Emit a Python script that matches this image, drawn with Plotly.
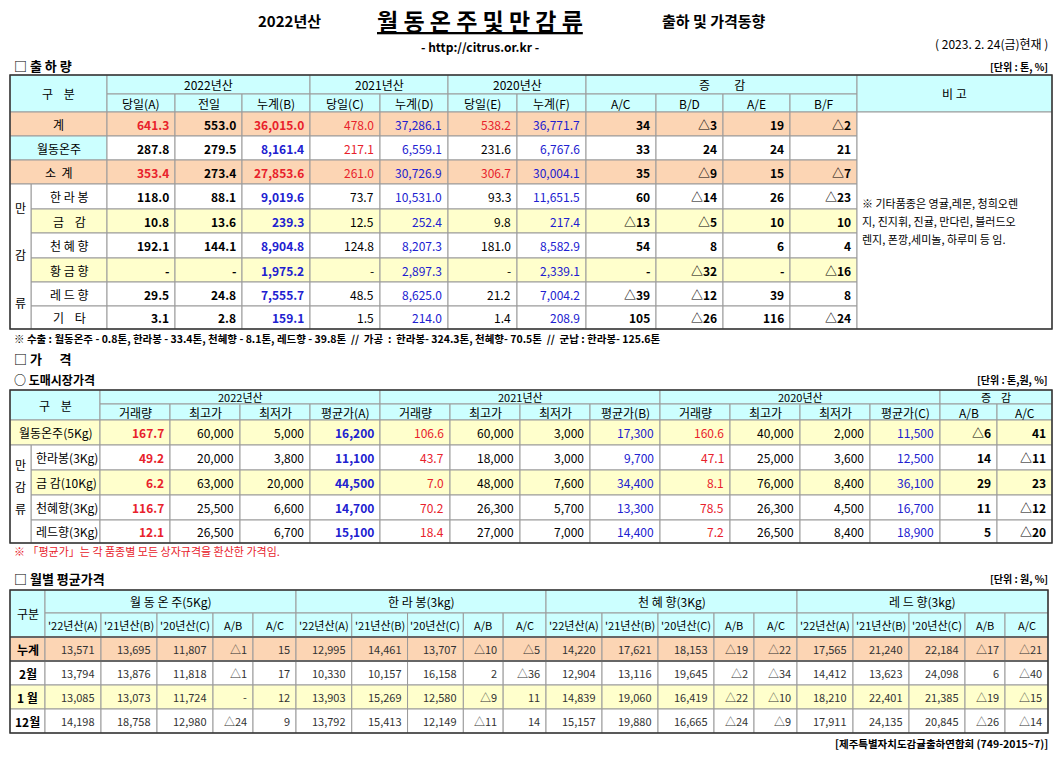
import plotly.graph_objects as go

FONT = "Noto Sans CJK KR"

# ---- 출하량 data ----
ship_labels = ["계", "월동온주", "소  계", "한 라 봉", "금    감", "천 혜 향", "황 금 향", "레 드 향", "기    타"]
ship_vals = [
    ["641.3", "553.0", "36,015.0", "478.0", "37,286.1", "538.2", "36,771.7", "34", "△3", "19", "△2"],
    ["287.8", "279.5", "8,161.4", "217.1", "6,559.1", "231.6", "6,767.6", "33", "24", "24", "21"],
    ["353.4", "273.4", "27,853.6", "261.0", "30,726.9", "306.7", "30,004.1", "35", "△9", "15", "△7"],
    ["118.0", "88.1", "9,019.6", "73.7", "10,531.0", "93.3", "11,651.5", "60", "△14", "26", "△23"],
    ["10.8", "13.6", "239.3", "12.5", "252.4", "9.8", "217.4", "△13", "△5", "10", "10"],
    ["192.1", "144.1", "8,904.8", "124.8", "8,207.3", "181.0", "8,582.9", "54", "8", "6", "4"],
    ["-", "-", "1,975.2", "-", "2,897.3", "-", "2,339.1", "-", "△32", "-", "△16"],
    ["29.5", "24.8", "7,555.7", "48.5", "8,625.0", "21.2", "7,004.2", "△39", "△12", "39", "8"],
    ["3.1", "2.8", "159.1", "1.5", "214.0", "1.4", "208.9", "105", "△26", "116", "△24"],
]
ship_sub = ["당일(A)", "전일", "누계(B)", "당일(C)", "누계(D)", "당일(E)", "누계(F)", "A/C", "B/D", "A/E", "B/F"]
note_lines = ["※ 기타품종은 영귤,레몬, 청희오렌", "지, 진지휘, 진귤, 만다린, 블러드오", "렌지, 폰깡,세미놀, 하루미 등 임."]

# ---- 도매시장가격 data ----
price_labels = ["월동온주(5Kg)", "한라봉(3Kg)", "금 감(10Kg)", "천혜향(3Kg)", "레드향(3Kg)"]
price_vals = [
    ["167.7", "60,000", "5,000", "16,200", "106.6", "60,000", "3,000", "17,300", "160.6", "40,000", "2,000", "11,500", "△6", "41"],
    ["49.2", "20,000", "3,800", "11,100", "43.7", "18,000", "3,000", "9,700", "47.1", "25,000", "3,600", "12,500", "14", "△11"],
    ["6.2", "63,000", "20,000", "44,500", "7.0", "48,000", "7,600", "34,400", "8.1", "76,000", "8,400", "36,100", "29", "23"],
    ["116.7", "25,500", "6,600", "14,700", "70.2", "26,300", "5,700", "13,300", "78.5", "26,300", "4,500", "16,700", "11", "△12"],
    ["12.1", "26,500", "6,700", "15,100", "18.4", "27,000", "7,000", "14,400", "7.2", "26,500", "8,400", "18,900", "5", "△20"],
]
price_sub = ["거래량", "최고가", "최저가", "평균가(A)", "거래량", "최고가", "최저가", "평균가(B)",
             "거래량", "최고가", "최저가", "평균가(C)", "A/B", "A/C"]

# ---- 월별 평균가격 data ----
month_groups = ["월 동 온 주(5Kg)", "한 라 봉(3kg)", "천 혜 향(3Kg)", "레 드 향(3kg)"]
month_sub = ["'22년산(A)", "'21년산(B)", "'20년산(C)", "A/B", "A/C"]
month_labels = ["누계", "2월", "1 월", "12월"]
month_vals = [
    ["13,571", "13,695", "11,807", "△1", "15", "12,995", "14,461", "13,707", "△10", "△5",
     "14,220", "17,621", "18,153", "△19", "△22", "17,565", "21,240", "22,184", "△17", "△21"],
    ["13,794", "13,876", "11,818", "△1", "17", "10,330", "10,157", "16,158", "2", "△36",
     "12,904", "13,116", "19,645", "△2", "△34", "14,412", "13,623", "24,098", "6", "△40"],
    ["13,085", "13,073", "11,724", "-", "12", "13,903", "15,269", "12,580", "△9", "11",
     "14,839", "19,060", "16,419", "△22", "△10", "18,210", "22,401", "21,385", "△19", "△15"],
    ["14,198", "18,758", "12,980", "△24", "9", "13,792", "15,413", "12,149", "△11", "14",
     "15,157", "19,880", "16,665", "△24", "△9", "17,911", "24,135", "20,845", "△26", "△14"],
]

CYAN = "#ccffff"
PEACH = "#fcd5b4"
YEL = "#ffffcc"
RED = "#e8212b"
BLUE = "#2020d0"
GRID = "#9a9a9a"

shapes = []
annos = []


def cell(x0, x1, y0, y1, text="", fill="white", color="black", bold=False, align="center", size=12):
    shapes.append(dict(type="rect", xref="x", yref="y", x0=x0, x1=x1, y0=y0, y1=y1,
                       fillcolor=fill, line=dict(color=GRID, width=1), layer="below"))
    if text != "":
        if align == "right":
            x, xa = x1 - 4, "right"
        elif align == "left":
            x, xa = x0 + 3, "left"
        else:
            x, xa = (x0 + x1) / 2, "center"
        txt = "<b>%s</b>" % text if bold else text
        annos.append(dict(x=x, y=(y0 + y1) / 2, xref="x", yref="y", text=txt, showarrow=False,
                          xanchor=xa, yanchor="middle", font=dict(size=size, color=color, family=FONT)))


def label(x, y, text, size=12, anchor="left", color="black", bold=False):
    txt = "<b>%s</b>" % text if bold else text
    annos.append(dict(x=x, y=y, xref="x", yref="y", text=txt, showarrow=False, xanchor=anchor,
                      yanchor="middle", font=dict(size=size, color=color, family=FONT)))


def frame(x0, x1, y0, y1):
    shapes.append(dict(type="rect", x0=x0, x1=x1, y0=y0, y1=y1, xref="x", yref="y",
                       line=dict(color="#333333", width=1.5)))


# ---- title ----
label(323, 20, "2022년산", 15, "right", bold=True)
label(480, 20, "<u>월 동 온 주 및 만 감 류</u>", 23, "center", bold=True)
label(660, 20, "출하 및 가격동향", 15, "left", bold=True)
label(480, 46, "- http://citrus.or.kr -", 12, "center", bold=True)
label(1050, 43, "( 2023. 2. 24(금)현재 )", 12, "right")

# ---- 출하량 ----
label(12, 65, "□ 출 하 량", 13, bold=True)
label(1050, 66, "[단위 : 톤, %]", 10, "right", bold=True)
cx = [107, 175, 242, 310, 380, 448, 517, 586, 656, 723, 790, 857]
cell(10, 107, 75, 112, "구    분", CYAN)
for x0, x1, t in [(107, 310, "2022년산"), (310, 448, "2021년산"), (448, 586, "2020년산"), (586, 857, "증         감")]:
    cell(x0, x1, 75, 94, t, CYAN)
for i, t in enumerate(ship_sub):
    cell(cx[i], cx[i + 1], 94, 112, t, CYAN)
cell(857, 1052, 75, 112, "비 고", CYAN)
ry = [112, 136, 160, 184, 209, 233, 258, 282, 306, 329]
for r, (lab, vals) in enumerate(zip(ship_labels, ship_vals)):
    y0, y1 = ry[r], ry[r + 1]
    total = r in (0, 2)
    fill = PEACH if total else (YEL if r in (4, 6) else "white")
    if r < 3:
        cell(10, 107, y0, y1, lab, PEACH if total else CYAN)
    else:
        cell(31, 107, y0, y1, lab, fill)
    for i, v in enumerate(vals):
        if i in (0, 3, 5):
            col = RED if (total or (r == 1 and i == 3)) else "black"
        elif i == 2:
            col = RED if total else BLUE
        elif i in (4, 6):
            col = BLUE
        else:
            col = "black"
        bold = i < 3 or i > 6
        cell(cx[i], cx[i + 1], y0, y1, v, fill, col, bold, "right")
cell(10, 31, 184, 329, "", "white")
for ch, y in zip(["만", "감", "류"], [207, 254, 302]):
    label(20, y, ch, 12, "center")
cell(857, 1052, 112, 329, "")
for k, t in enumerate(note_lines):
    label(860, 203 + k * 18, t, 11)
frame(10, 1052, 75, 329)
label(12, 338, "※ 수출 : 월동온주 - 0.8톤, 한라봉 - 33.4톤, 천혜향 - 8.1톤, 레드향 - 39.8톤  //  가공  :  한라봉- 324.3톤, 천혜향- 70.5톤  //  군납 : 한라봉- 125.6톤", 10.5, bold=True)

# ---- 가격 ----
label(12, 358, "□ 가      격", 13, bold=True)
label(12, 379, "○ 도매시장가격", 12, bold=True)
label(1050, 379, "[단위 : 톤,원, %]", 10, "right", bold=True)
px_ = [100, 170, 240, 310, 380, 450, 520, 590, 660, 730, 800, 870, 940, 997, 1052]
cell(10, 100, 390, 420, "구    분", CYAN)
for x0, x1, t in [(100, 380, "2022년산"), (380, 660, "2021년산"), (660, 940, "2020년산"), (940, 1052, "증    감")]:
    cell(x0, x1, 390, 404, t, CYAN, size=11)
for i, t in enumerate(price_sub):
    cell(px_[i], px_[i + 1], 404, 420, t, CYAN)
pry = [420, 445, 470, 495, 520, 543]
for r, (lab, vals) in enumerate(zip(price_labels, price_vals)):
    y0, y1 = pry[r], pry[r + 1]
    fill = YEL if r in (0, 2) else "white"
    if r == 0:
        cell(10, 100, y0, y1, lab, fill)
    else:
        cell(31, 100, y0, y1, lab, fill, align="left")
    for i, v in enumerate(vals):
        col = RED if i in (0, 4, 8) else (BLUE if i in (3, 7, 11) else "black")
        bold = i in (0, 3, 12, 13)
        cell(px_[i], px_[i + 1], y0, y1, v, fill, col, bold, "right")
cell(10, 31, 445, 543, "", "white")
for ch, y in zip(["만", "감", "류"], [464, 486, 508]):
    label(20, y, ch, 12, "center")
frame(10, 1052, 390, 543)
label(12, 551, "※ 「평균가」는 각 품종별 모든 상자규격을 환산한 가격임.", 11, color=RED)

# ---- 월별 평균가격 ----
label(12, 578, "□ 월별 평균가격", 13, bold=True)
label(1050, 578, "[단위 : 원, %]", 10, "right", bold=True)
gx = [45, 296, 546, 797, 1048]
widths = [56, 56, 56, 40, 43]
mx = []
for g in range(4):
    x = gx[g]
    scale = (gx[g + 1] - gx[g]) / sum(widths)
    for w in widths:
        mx.append(x)
        x += w * scale
mx.append(gx[-1])
cell(10, 45, 590, 637, "구분", CYAN)
for g, t in enumerate(month_groups):
    cell(gx[g], gx[g + 1], 590, 613, t, CYAN)
for i in range(20):
    cell(mx[i], mx[i + 1], 613, 637, month_sub[i % 5], CYAN, size=11)
mry = [637, 661, 685, 709, 733]
for r, (lab, vals) in enumerate(zip(month_labels, month_vals)):
    y0, y1 = mry[r], mry[r + 1]
    fill = PEACH if r == 0 else (YEL if r == 2 else "white")
    cell(10, 45, y0, y1, lab, fill, bold=True)
    for i, v in enumerate(vals):
        cell(mx[i], mx[i + 1], y0, y1, v, fill, "#333333", False, "right", 11)
shapes.append(dict(type="line", x0=10, x1=1048, y0=637, y1=637, line=dict(color="#666", width=2)))
shapes.append(dict(type="line", x0=10, x1=1048, y0=661, y1=661, line=dict(color="#666", width=2)))
frame(10, 1048, 590, 733)
label(1050, 743, "[제주특별자치도감귤출하연합회 (749-2015~7)]", 10.5, "right", bold=True)

fig = go.Figure()
fig.update_layout(
    width=1062, height=757, margin=dict(l=0, r=0, t=0, b=0),
    paper_bgcolor="white", plot_bgcolor="white",
    xaxis=dict(range=[0, 1062], visible=False, fixedrange=True),
    yaxis=dict(range=[757, 0], visible=False, fixedrange=True),
    shapes=shapes, annotations=annos, showlegend=False,
)
fig.write_html("out.html", config={"displayModeBar": False},
               post_script="document.body.style.margin='0';document.body.style.overflow='hidden';")
